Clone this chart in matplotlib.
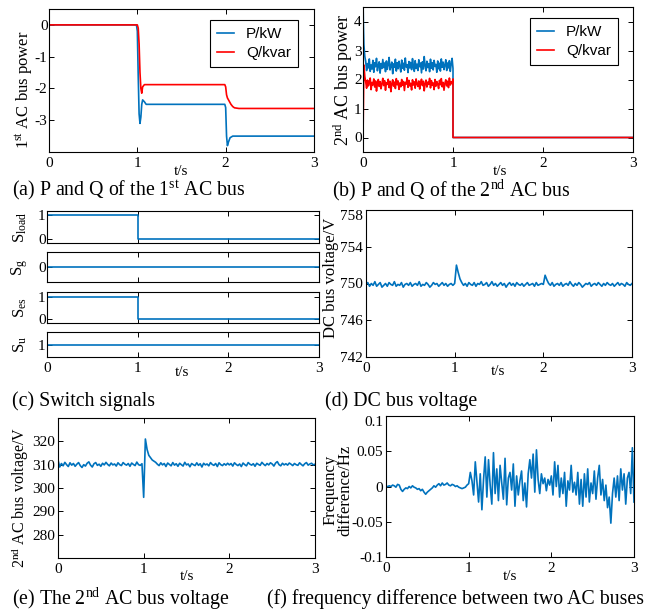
import numpy as np
import matplotlib.pyplot as plt

plt.rcParams["font.family"] = ["Liberation Serif"]
plt.rcParams["mathtext.fontset"] = "custom"
plt.rcParams["mathtext.rm"] = "Liberation Serif"
plt.rcParams["mathtext.it"] = "Liberation Serif:italic"
plt.rcParams["axes.unicode_minus"] = False

BLUE = "#0072BD"
RED = "#FF0000"

# ---- (a) 1st AC bus power ----
t_a_p = [0, 0.99, 1.0, 1.01, 1.02, 1.03, 1.04, 1.05, 1.06, 1.08, 1.1, 1.99, 2.0, 2.01, 2.02, 2.03, 2.05, 2.08, 3.0]
p_a = [0, 0, -0.2, -1.6, -2.8, -3.1, -2.9, -2.5, -2.36, -2.42, -2.5, -2.5, -2.6, -3.5, -3.8, -3.7, -3.55, -3.5, -3.5]
t_a_q = [0, 1.0, 1.01, 1.02, 1.03, 1.04, 1.05, 1.06, 1.08, 1.1, 1.99, 2.0, 2.01, 2.02, 2.04, 2.06, 2.08, 2.1, 2.15, 3.0]
q_a = [0, 0, -0.1, -0.6, -1.5, -2.0, -2.15, -1.95, -1.88, -1.88, -1.88, -1.95, -2.2, -2.3, -2.4, -2.5, -2.57, -2.61, -2.63, -2.63]

# ---- (b) 2nd AC bus power ----
t_b_start = [0, 0.005, 0.01, 0.02]
t_b_end = [1.0, 3.0]
p_b_start = [4.8, 3.8, 3.2, 2.8]
p_b_noise = [
    2.62, 2.31, 2.55, 2.40, 2.71, 2.28, 2.50, 2.36, 2.66, 2.25,
    2.58, 2.44, 2.73, 2.30, 2.49, 2.61, 2.22, 2.55, 2.38, 2.69,
    2.41, 2.57, 2.27, 2.64, 2.35, 2.52, 2.76, 2.33, 2.47, 2.60,
    2.20, 2.54, 2.42, 2.70, 2.29, 2.58, 2.37, 2.63, 2.45, 2.26,
    2.67, 2.39, 2.56, 2.32, 2.74, 2.43, 2.51, 2.24, 2.62, 2.40,
    2.59, 2.34, 2.72, 2.46, 2.28, 2.65, 2.38, 2.53, 2.31, 2.68,
    2.44, 2.57, 2.23, 2.61, 2.36, 2.79, 2.48, 2.30, 2.63, 2.41,
    2.55, 2.27, 2.70, 2.39, 2.58, 2.33, 2.66, 2.45, 2.52, 2.25,
    2.64, 2.37, 2.56, 2.29, 2.71, 2.42, 2.60, 2.34, 2.50, 2.68,
    2.31, 2.57, 2.40, 2.65, 2.28, 2.54, 2.73, 2.38,
]
q_b_start = [0, 1.2, 2.5, 2.1]
q_b_noise = [
    1.92, 1.70, 1.98, 1.78, 1.88, 2.05, 1.65, 1.90, 1.81, 2.02,
    1.74, 1.95, 1.60, 1.87, 2.00, 1.76, 1.93, 1.68, 1.85, 2.04,
    1.79, 1.96, 1.63, 1.89, 1.83, 2.01, 1.72, 1.94, 1.58, 1.86,
    1.99, 1.77, 1.91, 1.69, 2.03, 1.82, 1.95, 1.66, 1.88, 1.75,
    2.00, 1.80, 1.93, 1.62, 1.90, 1.84, 2.06, 1.73, 1.97, 1.78,
    1.87, 1.64, 1.99, 1.81, 1.92, 1.70, 2.02, 1.85, 1.76, 1.95,
    1.67, 1.89, 2.01, 1.79, 1.94, 1.61, 1.86, 1.98, 1.74, 1.91,
    1.83, 2.04, 1.71, 1.96, 1.80, 1.88, 1.65, 2.00, 1.77, 1.93,
    1.84, 1.69, 1.97, 1.82, 2.03, 1.75, 1.90, 1.63, 1.87, 1.99,
    1.78, 1.94, 1.72, 2.05, 1.81, 1.92, 1.86, 2.02,
]
end_b = [0, 0]

# ---- (c) switch signals ----
t_sw = [0, 1, 1, 3]
s_load = [1, 1, 0, 0]
s_g = [0, 0, 0, 0]
s_es = [1, 1, 0, 0]
s_u = [1, 1, 1, 1]

# ---- (d) DC bus voltage, sampled every 0.02 s ----
v_dc = [
    749.9, 750.1, 749.7, 750.0, 749.8, 750.2, 749.7, 749.9, 750.1, 749.6,
    749.8, 750.0, 749.7, 750.1, 749.9, 749.8, 750.2, 749.7, 749.9, 749.8,
    750.1, 749.6, 749.9, 750.0, 749.8, 750.1, 749.7, 749.9, 750.0, 749.8,
    750.2, 749.7, 749.9, 749.8, 750.1, 749.9, 749.6, 749.8, 750.1, 749.9,
    750.0, 749.7, 749.9, 750.1, 749.8, 750.0, 749.7, 749.9, 750.0, 749.8,
    750.0, 752.0, 751.2, 750.5, 750.1, 749.8, 750.0, 749.7, 750.1, 749.9,
    749.8, 750.1, 749.7, 750.0, 749.9, 750.2, 749.8, 749.9, 750.1, 749.7,
    749.9, 750.2, 749.8, 750.0, 749.7, 749.9, 750.1, 749.8, 750.0, 749.6,
    749.9, 750.1, 749.8, 750.0, 749.7, 750.1, 749.9, 749.8, 750.0, 749.7,
    749.9, 750.1, 749.8, 749.9, 750.0, 749.7, 750.1, 749.8, 749.9, 750.0,
    749.9, 750.9, 750.4, 750.0, 749.8, 750.1, 749.7, 749.9, 750.0, 749.8,
    750.1, 749.7, 749.9, 750.0, 749.8, 750.2, 749.9, 749.7, 750.0, 749.8,
    750.1, 749.9, 749.6, 749.8, 750.0, 749.9, 750.1, 749.7, 749.9, 750.0,
    749.8, 750.1, 749.9, 749.7, 750.0, 749.8, 750.1, 749.9, 749.8, 750.0,
    749.7, 749.9, 750.1, 749.8, 750.0, 749.9, 749.7, 750.1, 749.9, 749.8,
    750.0,
]

# ---- (e) 2nd AC bus voltage, sampled every 0.02 s ----
v_ac2 = [
    312.0, 309.0, 310.5, 309.5, 311.0, 310.0, 309.2, 310.8, 309.8, 310.5,
    309.3, 310.2, 310.9, 309.6, 308.8, 310.0, 309.4, 310.6, 311.2, 309.8,
    309.0, 310.4, 310.9, 309.7, 310.2, 309.3, 310.6, 309.9, 311.0, 310.1,
    309.5, 310.7, 309.9, 310.3, 309.4, 310.8, 310.0, 309.6, 310.9, 310.2,
    309.8, 310.5, 309.3, 310.7, 310.1, 309.6, 311.1, 310.0, 309.7, 310.4,
    296.0, 321.0, 316.5, 314.0, 313.0, 312.0, 311.5, 311.0, 310.2, 309.6,
    310.8, 309.9, 310.5, 309.2, 310.7, 310.1, 309.5, 310.9, 309.8, 310.4,
    309.3, 310.6, 310.0, 309.4, 311.0, 309.9, 310.3, 309.1, 310.5, 310.0,
    309.6, 310.8, 309.7, 310.4, 309.0, 310.6, 309.9, 310.3, 309.5, 310.9,
    310.1, 309.7, 310.5, 309.2, 310.8, 310.0, 309.6, 310.4, 309.8, 310.6,
    309.9, 310.5, 309.4, 310.8, 310.1, 309.6, 310.3, 309.2, 310.7, 310.0,
    309.5, 310.9, 310.2, 309.8, 310.4, 309.3, 310.6, 310.1, 309.7, 311.0,
    310.2, 309.6, 310.5, 309.9, 310.8, 310.3, 309.4, 310.7, 311.3, 310.0,
    309.5, 310.6, 309.9, 310.4, 309.8, 310.7, 310.2, 309.6, 310.5, 310.0,
    309.7, 310.8, 310.1, 309.5, 310.4, 310.9, 309.8, 310.3, 310.6, 309.9,
    310.2,
]

# ---- (f) frequency difference, sampled every 0.02 s ----
df_hz = [
    0.000, 0.000, 0.001, 0.000, 0.002, 0.001, -0.001, 0.003, 0.002, -0.004,
    -0.007, -0.004, -0.002, -0.003, 0.000, -0.002, 0.001, -0.001, -0.002, -0.004,
    -0.003, -0.006, -0.004, -0.008, -0.011, -0.008, -0.006, -0.004, -0.002, 0.001,
    -0.001, 0.002, 0.004, 0.001, 0.005, 0.002, 0.003, 0.005, 0.002, 0.001,
    0.003, 0.002, 0.000, 0.001, -0.001, -0.002, -0.003, -0.002, -0.001, 0.002,
    0.004,
    0.020, 0.008, -0.012, 0.035, 0.006, -0.022, 0.018, -0.033, 0.010, 0.042,
    -0.015, 0.038, 0.002, -0.025, 0.048, -0.010, 0.025, -0.020, 0.030, 0.005,
    -0.018, 0.040, -0.026, 0.012, 0.020, -0.005, 0.032, -0.028, 0.015, -0.012,
    0.008, 0.022, -0.020, 0.005, -0.029, 0.018, 0.038, 0.012, 0.046, -0.008,
    0.052, 0.010, -0.010, 0.018, 0.004, 0.012, -0.006, 0.010, 0.002, 0.015,
    -0.012, 0.035, 0.000, 0.030, -0.015, 0.012, -0.010, 0.020, -0.028, 0.008,
    -0.005, 0.030, -0.008, 0.006, -0.012, 0.020, -0.025, 0.010, -0.028, 0.018,
    -0.015, 0.025, -0.022, 0.005, -0.010, 0.022, -0.018, 0.012, 0.030, -0.012,
    0.010, -0.020, 0.002, -0.030, -0.015, -0.052, -0.010, 0.012, -0.015, 0.015,
    -0.020, 0.025, -0.005, 0.018, -0.025, 0.012, 0.020, -0.010, 0.055, -0.022,
]

W, H = 656, 612
FS = 11
LW = 1.2


def rect(l, t, r, b):
    return [l / W, 1 - b / H, (r - l) / W, (b - t) / H]


def fxy(x, y):
    return (x / W, 1 - y / H)


def style(ax, ylim, yticks, ypad=2, xlabels=True):
    ax.set_xlim(0, 3)
    ax.set_ylim(*ylim)
    ax.set_xticks([0, 1, 2, 3])
    ax.set_yticks(yticks)
    ax.tick_params(direction="in", top=True, right=True, length=3.5, width=0.7,
                   labelsize=FS, colors="black")
    ax.tick_params(axis="y", pad=ypad)
    if not xlabels:
        ax.set_xticklabels([])
    for s in ax.spines.values():
        s.set_linewidth(0.8)


def xlab(ax, x, y):
    ax.set_xlabel("t/s", fontsize=FS)
    ax.xaxis.set_label_coords(*fxy(x, y), transform=fig.transFigure)


def ylab(ax, text, x, y, size=12):
    ax.set_ylabel(text, fontsize=size, va="center", ha="center")
    ax.yaxis.set_label_coords(*fxy(x, y), transform=fig.transFigure)


def legend(ax, x, y):
    leg = ax.legend(loc="upper right", bbox_to_anchor=fxy(x, y), bbox_transform=fig.transFigure,
                    fancybox=False, framealpha=1, edgecolor="black", borderaxespad=0,
                    handlelength=1.1, handletextpad=0.8, labelspacing=0.35, borderpad=0.45,
                    prop={"family": "Liberation Sans", "size": 11})
    leg.get_frame().set_linewidth(0.8)


fig = plt.figure(figsize=(W / 100, H / 100), dpi=100)
t2 = np.round(np.arange(len(v_dc)) * 0.02, 2)

# (a)
ax = fig.add_axes(rect(49, 9, 314, 152))
ax.plot(t_a_p, p_a, color=BLUE, lw=LW, label="P/kW")
ax.plot(t_a_q, q_a, color=RED, lw=LW, label="Q/kvar")
style(ax, (-4, 0.5), [-3, -2, -1, 0], ypad=1)
ylab(ax, "1$^{\\rm st}$ AC bus power", 24, 90)
xlab(ax, 181, 165)
legend(ax, 298, 20)

# (b)
t_b = t_b_start + [round(0.03 + 0.01 * i, 2) for i in range(len(p_b_noise))] + t_b_end
ax = fig.add_axes(rect(363, 7, 633, 152))
ax.plot(t_b, p_b_start + p_b_noise + end_b, color=BLUE, lw=LW, label="P/kW")
ax.plot(t_b, q_b_start + q_b_noise + end_b, color=RED, lw=LW, label="Q/kvar")
style(ax, (-0.5, 4.5), [0, 1, 2, 3, 4], ypad=1)
ylab(ax, "2$^{\\rm nd}$ AC bus power", 343, 80, size=13)
xlab(ax, 500, 165)
legend(ax, 618, 18)

# (c)
sw_rows = [
    (s_load, (211, 243), (-0.17, 1.17), [0, 1], "S$_{\\rm load}$"),
    (s_g, (252, 282), (-1, 1), [0], "S$_{\\rm g}$"),
    (s_es, (292, 323), (-0.17, 1.2), [0, 1], "S$_{\\rm es}$"),
    (s_u, (332, 357), (0.5, 1.5), [1], "S$_{\\rm u}$"),
]
for k, (sig, (top, bot), yl, yt, name) in enumerate(sw_rows):
    ax = fig.add_axes(rect(47, top, 319, bot))
    ax.plot(t_sw, sig, color=BLUE, lw=LW)
    style(ax, yl, yt, ypad=1, xlabels=(k == 3))
    ylab(ax, name, 20, (top + bot) / 2)
xlab(ax, 182, 366)

# (d)
ax = fig.add_axes(rect(366, 210, 632, 357))
ax.plot(t2, v_dc, color=BLUE, lw=LW)
style(ax, (742, 758), [742, 746, 750, 754, 758], ypad=2)
ax.get_yticklabels()[-1].set_va("top")
ylab(ax, "DC bus voltage/V", 331, 278)
xlab(ax, 498, 365)

# (e)
ax = fig.add_axes(rect(58, 418, 315, 558))
ax.plot(t2, v_ac2, color=BLUE, lw=LW)
style(ax, (270, 330), [280, 290, 300, 310, 320], ypad=2)
ylab(ax, "2$^{\\rm nd}$ AC bus voltage/V", 20, 497, size=11.5)
xlab(ax, 187, 570)

# (f)
ax = fig.add_axes(rect(386, 416, 634, 557))
ax.plot(t2, df_hz, color=BLUE, lw=LW)
style(ax, (-0.1, 0.1), [-0.1, -0.05, 0, 0.05, 0.1], ypad=2)
ax.set_yticklabels(["-0.1", "-0.05", "0", "0.05", "0.1"])
ax.get_yticklabels()[-1].set_va("top")
ylab(ax, "Frequency\ndifference/Hz", 338, 490)
ax.yaxis.label.set_linespacing(0.95)
xlab(ax, 510, 570)

# captions
caps = [
    (12, 190, "(a) P and Q of the 1$^{\\rm st}$ AC bus"),
    (332, 190, "(b) P and Q of the 2$^{\\rm nd}$ AC bus"),
    (12, 401, "(c) Switch signals"),
    (325, 401, "(d) DC bus voltage"),
    (12, 599, "(e) The 2$^{\\rm nd}$ AC bus voltage"),
    (267, 599, "(f) frequency difference between two AC buses"),
]
for x, y, s in caps:
    fig.text(*fxy(x, y), s, fontsize=14.3, ha="left", va="center")

fig.savefig("out.png", dpi=100)
